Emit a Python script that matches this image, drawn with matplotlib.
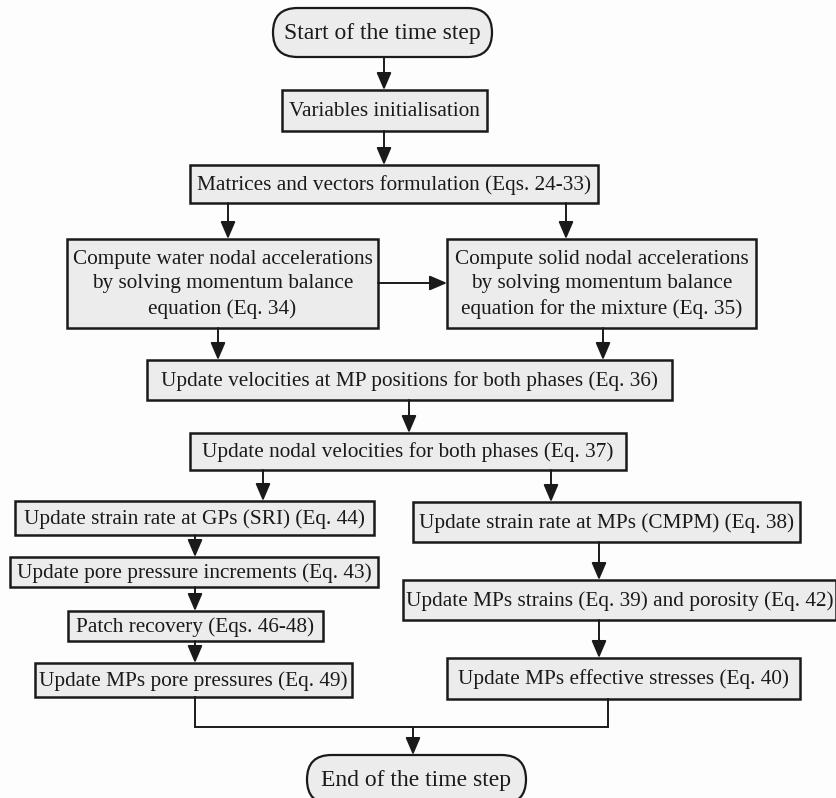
import matplotlib.pyplot as plt
from matplotlib.patches import FancyBboxPatch, Rectangle

plt.rcParams["font.family"] = ["Liberation Serif", "DejaVu Serif"]

# box labels
labels = [
    "Start of the time step",
    "Variables initialisation",
    "Matrices and vectors formulation (Eqs. 24-33)",
    "Compute water nodal accelerations\nby solving momentum balance\nequation (Eq. 34)",
    "Compute solid nodal accelerations\nby solving momentum balance\nequation for the mixture (Eq. 35)",
    "Update velocities at MP positions for both phases (Eq. 36)",
    "Update nodal velocities for both phases (Eq. 37)",
    "Update strain rate at GPs (SRI) (Eq. 44)",
    "Update pore pressure increments (Eq. 43)",
    "Patch recovery (Eqs. 46-48)",
    "Update MPs pore pressures (Eq. 49)",
    "Update strain rate at MPs (CMPM) (Eq. 38)",
    "Update MPs strains (Eq. 39) and porosity (Eq. 42)",
    "Update MPs effective stresses (Eq. 40)",
    "End of the time step",
]
rounded = [0, 14]

# layout in pixels (x0, y0, x1, y1), y measured from top
boxes = [
    (273, 8, 492, 57),
    (282, 90, 487, 131),
    (190, 165, 598, 203),
    (67, 239, 378, 328),
    (447, 239, 756, 328),
    (147, 360, 672, 400),
    (190, 433, 626, 470),
    (15, 501, 374, 535),
    (10, 557, 378, 587),
    (68, 611, 323, 641),
    (35, 663, 352, 697),
    (413, 502, 800, 542),
    (403, 580, 836, 620),
    (447, 658, 800, 699),
    (307, 755, 526, 804),
]

# arrows: polyline points, the last segment gets the head
arrows = [
    [(384, 57), (384, 90)],
    [(384, 131), (384, 165)],
    [(228, 203), (228, 239)],
    [(566, 203), (566, 239)],
    [(378, 283), (447, 283)],
    [(218, 328), (218, 360)],
    [(603, 328), (603, 360)],
    [(409, 400), (409, 433)],
    [(263, 470), (263, 501)],
    [(551, 470), (551, 502)],
    [(195, 535), (195, 557)],
    [(195, 587), (195, 611)],
    [(195, 641), (195, 663)],
    [(599, 542), (599, 580)],
    [(599, 620), (599, 658)],
    [(413, 727), (413, 755)],
]
lines = [
    [(195, 697), (195, 727), (608, 727), (608, 699)],
]

W, H = 837, 798
fig = plt.figure(figsize=(W / 100, H / 100), dpi=100)
fig.patch.set_facecolor("#fdfdfd")
ax = fig.add_axes([0, 0, 1, 1])
ax.set_xlim(0, W)
ax.set_ylim(H, 0)
ax.axis("off")

fill = "#ececec"
edge = "#1a1a1a"

for i, (label, (x0, y0, x1, y1)) in enumerate(zip(labels, boxes)):
    if i in rounded:
        r = (y1 - y0) / 2
        patch = FancyBboxPatch((x0, y0), x1 - x0, y1 - y0,
                               boxstyle=f"round,pad=0,rounding_size={r}",
                               fc=fill, ec=edge, lw=1.6)
        size = 17
    else:
        patch = Rectangle((x0, y0), x1 - x0, y1 - y0, fc=fill, ec=edge, lw=1.8)
        size = 15.3
    ax.add_patch(patch)
    ax.text((x0 + x1) / 2, (y0 + y1) / 2 + 1, label, ha="center", va="center",
            fontsize=size, linespacing=1.38, color="#1a1a1a")

for pts in lines:
    xs, ys = zip(*pts)
    ax.plot(xs, ys, color=edge, lw=1.4, solid_joinstyle="miter")

for pts in arrows:
    for (xa, ya), (xb, yb) in zip(pts[:-2], pts[1:-1]):
        ax.plot([xa, xb], [ya, yb], color=edge, lw=1.4)
    ax.annotate("", xy=pts[-1], xytext=pts[-2],
                arrowprops=dict(arrowstyle="-|>,head_length=0.7,head_width=0.3",
                                color=edge, lw=1.4, shrinkA=0, shrinkB=0,
                                mutation_scale=15))

fig.savefig("out.png", dpi=100, facecolor=fig.get_facecolor())
